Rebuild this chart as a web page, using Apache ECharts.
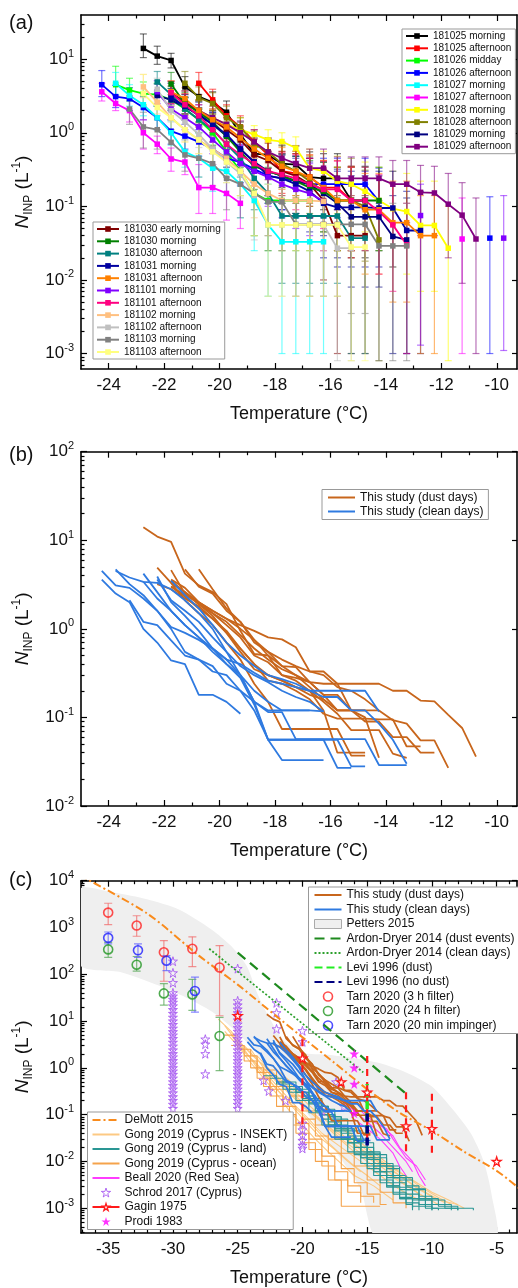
<!DOCTYPE html>
<html><head><meta charset="utf-8">
<script src="https://cdn.jsdelivr.net/npm/echarts@6/dist/echarts.min.js"></script>
<style>html,body{margin:0;padding:0;background:#fff}#c{width:518px;height:1288px}</style>
</head><body><div id="c"></div><script>
const FONT = '"Liberation Sans", Arial, sans-serif';
const INK = '#111';

// ---------- Panel (a) / (b): this study ----------
const NAMES_A = ['181025 morning','181025 afternoon','181026 midday','181026 afternoon','181027 morning','181027 afternoon','181028 morning','181028 afternoon','181029 morning','181029 afternoon','181030 early morning','181030 morning','181030 afternoon','181031 morning','181031 afternoon','181101 morning','181101 afternoon','181102 morning','181102 afternoon','181103 morning','181103 afternoon'];
const COLORS_A = ['#000000','#ff0000','#00ff00','#0000ff','#00ffff','#ff00ff','#ffff00','#808000','#000080','#800080','#800000','#008000','#008080','#0000a0','#ff8000','#8000ff','#ff0080','#ffc080','#c0c0c0','#808080','#ffff80'];
const DUST_A = [1,1,0,0,0,0,1,1,1,1,1,1,1,1,1,0,0,0,0,0,0];

// [temperature, N_INP, lower, upper]
const D01 = [[-22.75,14,10.5,22],[-22.25,11,8.5,15],[-21.75,9.6,7.6,12],[-21.25,4.2,3.0,5.8],[-20.75,3.1,2.2,4.4],[-20.25,2.6,1.8,3.6],[-19.75,1.9,1.3,2.7],[-19.25,0.95,0.6,1.4],[-18.75,0.52,0.3,0.85],[-18.25,0.5,0.28,0.82],[-17.75,0.38,0.18,0.68],[-17.25,0.37,0.17,0.66],[-16.75,0.25,0.1,0.55],[-16.25,0.24,0.09,0.52],[-15.75,0.24,0.09,0.52],[-15.25,0.12,0.02,0.35],[-14.75,0.12,0.02,0.35]];
const D02 = [[-20.75,4.7,3.3,6.6],[-20.25,2.8,2.0,3.9],[-19.75,1.7,1.2,2.4],[-19.25,1.2,0.8,1.7],[-18.75,0.75,0.48,1.1],[-18.25,0.5,0.3,0.8],[-17.75,0.3,0.15,0.55],[-17.25,0.28,0.13,0.52],[-16.75,0.25,0.11,0.5],[-16.25,0.18,0.06,0.42],[-15.75,0.18,0.06,0.42],[-15.25,0.12,0.02,0.35]];
const D03 = [[-23.75,4.5,3.2,8.0],[-23.25,3.8,2.7,5.5],[-22.75,3.4,2.4,4.9],[-22.25,3.3,2.3,4.7],[-21.75,2.8,2.0,4.0],[-21.25,2.1,1.5,3.0],[-20.75,1.5,1.0,2.1],[-20.25,1.0,0.68,1.45],[-19.75,0.55,0.34,0.88],[-19.25,0.3,0.14,0.56],[-18.75,0.15,0.04,0.4],[-18.25,0.12,0.025,0.34],[-17.75,0.12,0.025,0.34],[-17.25,0.12,0.025,0.34],[-16.75,0.12,0.025,0.34]];
const D04 = [[-24.25,4.5,3.1,7.0],[-23.75,3.1,2.2,4.4],[-23.25,2.9,2.0,4.1],[-22.75,2.2,1.5,3.1],[-22.25,1.6,1.1,2.3],[-21.75,1.05,0.7,1.5],[-21.25,0.9,0.6,1.3],[-20.75,0.75,0.48,1.1],[-20.25,0.6,0.37,0.95],[-19.75,0.45,0.25,0.75],[-19.25,0.4,0.21,0.7],[-18.75,0.32,0.15,0.58],[-18.25,0.26,0.11,0.52],[-17.75,0.24,0.09,0.5],[-17.25,0.22,0.08,0.48],[-16.75,0.2,0.07,0.45],[-16.25,0.2,0.07,0.45],[-15.75,0.2,0.07,0.45],[-15.25,0.2,0.07,0.45],[-14.75,0.2,0.07,0.45],[-14.25,0.117,0.025,0.33],[-10.25,0.037,0.001,0.135]];
const D05 = [[-23.75,4.7,3.3,6.6],[-23.25,3.2,2.3,4.5],[-22.75,2.4,1.7,3.4],[-22.25,1.6,1.1,2.3],[-21.75,1.0,0.68,1.45],[-21.25,0.55,0.34,0.88],[-20.75,0.45,0.25,0.75],[-20.25,0.33,0.16,0.6],[-19.75,0.3,0.14,0.56],[-19.25,0.2,0.07,0.45],[-18.75,0.12,0.025,0.34],[-18.25,0.056,0.006,0.2],[-17.75,0.033,0.001,0.12],[-17.25,0.033,0.001,0.12],[-16.75,0.033,0.001,0.12],[-16.25,0.033,0.001,0.12]];
const D06 = [[-24.25,3.6,2.7,4.7],[-23.75,2.5,2.0,3.2],[-23.25,2.0,1.4,2.8],[-22.75,1.0,0.6,1.5],[-22.25,0.7,0.52,0.9],[-21.75,0.44,0.3,0.62],[-21.25,0.4,0.27,0.58],[-20.75,0.18,0.08,0.37],[-20.25,0.18,0.08,0.37],[-19.75,0.15,0.065,0.3],[-19.25,0.11,0.05,0.2],[-11.25,0.036,0.001,0.13]];
const D07 = [[-21.75,3.0,2.1,4.3],[-21.25,2.4,1.7,3.4],[-20.75,2.0,1.4,2.8],[-20.25,1.6,1.1,2.3],[-19.75,1.3,0.9,1.9],[-19.25,1.1,0.75,1.6],[-18.75,0.95,0.63,1.25],[-18.25,0.8,0.52,1.1],[-17.75,0.76,0.5,1.0],[-17.25,0.62,0.38,0.88],[-16.75,0.33,0.16,0.6],[-16.25,0.3,0.14,0.56],[-15.75,0.22,0.08,0.48],[-15.25,0.2,0.07,0.45],[-14.75,0.16,0.045,0.4],[-14.25,0.12,0.025,0.34],[-13.75,0.093,0.015,0.3],[-13.25,0.085,0.012,0.28],[-12.75,0.055,0.007,0.22],[-12.25,0.055,0.007,0.22],[-11.75,0.027,0.0008,0.1]];
const D08 = [[-21.25,4.7,3.3,6.8],[-20.75,3.0,2.1,4.2],[-20.25,2.5,1.8,3.5],[-19.75,1.6,1.1,2.3],[-19.25,1.2,0.8,1.6],[-18.75,0.7,0.45,1.05],[-18.25,0.55,0.33,0.85],[-17.75,0.38,0.19,0.66],[-17.25,0.3,0.14,0.56],[-16.75,0.22,0.08,0.48],[-16.25,0.16,0.045,0.4],[-15.75,0.12,0.025,0.34],[-15.25,0.12,0.025,0.34],[-14.75,0.1,0.018,0.31],[-14.25,0.035,0.0008,0.12]];
const D09 = [[-22.25,3.2,2.3,4.6],[-21.75,2.8,2.0,4.0],[-21.25,2.2,1.5,3.1],[-20.75,1.8,1.25,2.6],[-20.25,1.3,0.9,1.9],[-19.75,0.9,0.6,1.3],[-19.25,0.6,0.37,0.95],[-18.75,0.4,0.21,0.7],[-18.25,0.3,0.14,0.56],[-17.75,0.26,0.11,0.52],[-17.25,0.22,0.08,0.48],[-16.75,0.2,0.07,0.45],[-16.25,0.15,0.04,0.4],[-15.75,0.11,0.02,0.32],[-15.25,0.072,0.008,0.26],[-14.75,0.072,0.008,0.26],[-14.25,0.072,0.008,0.26],[-13.75,0.039,0.001,0.14],[-13.25,0.035,0.001,0.13]];
const D10 = [[-21.75,3.3,2.4,4.7],[-21.25,2.6,1.8,3.7],[-20.75,2.0,1.4,2.8],[-20.25,1.6,1.1,2.3],[-19.75,1.3,0.9,1.9],[-19.25,1.0,0.68,1.45],[-18.75,0.75,0.48,1.1],[-18.25,0.55,0.33,0.85],[-17.75,0.45,0.25,0.75],[-17.25,0.38,0.19,0.67],[-16.75,0.33,0.16,0.6],[-16.25,0.33,0.16,0.6],[-15.75,0.24,0.09,0.47],[-15.25,0.24,0.09,0.47],[-14.75,0.24,0.09,0.47],[-14.25,0.24,0.09,0.47],[-13.75,0.2,0.06,0.42],[-13.25,0.2,0.06,0.42],[-12.75,0.155,0.04,0.36],[-12.25,0.152,0.04,0.35],[-11.75,0.107,0.02,0.28],[-11.25,0.076,0.009,0.21],[-10.75,0.036,0.001,0.13]];
const D11 = [[-21.75,3.5,2.5,5.0],[-21.25,2.6,1.8,3.7],[-20.75,1.9,1.3,2.7],[-20.25,1.5,1.0,2.1],[-19.75,1.1,0.75,1.6],[-19.25,0.8,0.52,1.2],[-18.75,0.5,0.3,0.82],[-18.25,0.42,0.23,0.72],[-17.75,0.3,0.14,0.56],[-17.25,0.26,0.11,0.52],[-16.75,0.2,0.07,0.45],[-16.25,0.12,0.01,0.33],[-15.75,0.04,0.001,0.14],[-15.25,0.04,0.001,0.14],[-14.75,0.04,0.001,0.14]];
const D12 = [[-21.75,4.6,3.3,6.6],[-21.25,2.5,1.8,3.5],[-20.75,1.9,1.3,2.7],[-20.25,1.4,0.95,2.0],[-19.75,0.9,0.6,1.3],[-19.25,0.55,0.34,0.88],[-18.75,0.35,0.17,0.63],[-18.25,0.3,0.14,0.56],[-17.75,0.26,0.11,0.52],[-17.25,0.22,0.08,0.48],[-16.75,0.18,0.055,0.42],[-16.25,0.16,0.045,0.4],[-15.75,0.12,0.025,0.34],[-15.25,0.12,0.025,0.34],[-14.75,0.12,0.025,0.34],[-14.25,0.12,0.025,0.34]];
const D13 = [[-22.25,4.9,3.4,6.8],[-21.75,3.3,2.3,4.7],[-21.25,2.1,1.5,3.0],[-20.75,1.5,1.0,2.1],[-20.25,1.1,0.75,1.6],[-19.75,0.7,0.45,1.05],[-19.25,0.45,0.25,0.75],[-18.75,0.24,0.09,0.5],[-18.25,0.15,0.04,0.4],[-17.75,0.074,0.009,0.24],[-17.25,0.074,0.009,0.24],[-16.75,0.074,0.009,0.24],[-16.25,0.074,0.009,0.24],[-15.75,0.074,0.009,0.24],[-15.25,0.037,0.001,0.13],[-14.75,0.037,0.001,0.13]];
const D14 = [[-21.75,3.0,2.1,4.3],[-21.25,2.3,1.6,3.3],[-20.75,1.7,1.2,2.4],[-20.25,1.3,0.9,1.9],[-19.75,0.95,0.63,1.4],[-19.25,0.6,0.37,0.95],[-18.75,0.4,0.21,0.7],[-18.25,0.26,0.11,0.52],[-17.75,0.24,0.09,0.5],[-17.25,0.2,0.07,0.45],[-16.75,0.16,0.045,0.4],[-16.25,0.11,0.02,0.32],[-15.75,0.097,0.015,0.3],[-15.25,0.097,0.015,0.3],[-14.75,0.097,0.015,0.3],[-14.25,0.095,0.015,0.3],[-13.75,0.095,0.015,0.3],[-13.25,0.047,0.001,0.16],[-12.75,0.047,0.001,0.16]];
const D15 = [[-21.75,3.6,2.6,5.1],[-21.25,2.9,2.0,4.1],[-20.75,2.0,1.4,2.8],[-20.25,1.5,1.0,2.1],[-19.75,1.2,0.8,1.7],[-19.25,0.85,0.55,1.25],[-18.75,0.6,0.37,0.95],[-18.25,0.45,0.25,0.75],[-17.75,0.35,0.17,0.63],[-17.25,0.3,0.14,0.56],[-16.75,0.25,0.1,0.5],[-16.25,0.18,0.055,0.42],[-15.75,0.12,0.025,0.34],[-15.25,0.12,0.025,0.34],[-14.75,0.09,0.012,0.28],[-14.25,0.09,0.012,0.28],[-13.75,0.06,0.005,0.22],[-13.25,0.06,0.005,0.22],[-12.75,0.04,0.001,0.14],[-12.25,0.04,0.001,0.14]];
const D16 = [[-22.25,3.6,2.5,5.1],[-21.75,2.1,1.5,3.0],[-21.25,1.6,1.1,2.3],[-20.75,1.2,0.8,1.7],[-20.25,0.8,0.52,1.2],[-19.75,0.55,0.34,0.88],[-19.25,0.38,0.19,0.67],[-18.75,0.3,0.14,0.56],[-18.25,0.25,0.1,0.5],[-17.75,0.2,0.07,0.45],[-17.25,0.17,0.05,0.41],[-16.75,0.15,0.04,0.38],[-16.25,0.117,0.025,0.33],[-12.75,0.075,0.0013,0.2],[-9.75,0.037,0.0011,0.14]];
const D17 = [[-21.75,3.5,2.5,5.0],[-21.25,2.4,1.7,3.4],[-20.75,1.7,1.2,2.4],[-20.25,1.1,0.75,1.6],[-19.75,0.7,0.45,1.05],[-19.25,0.5,0.3,0.8],[-18.75,0.38,0.19,0.67],[-18.25,0.3,0.14,0.56],[-17.75,0.27,0.12,0.53],[-17.25,0.24,0.09,0.5],[-16.75,0.2,0.07,0.45],[-16.25,0.17,0.05,0.41],[-15.75,0.17,0.05,0.41],[-15.25,0.12,0.025,0.34],[-14.75,0.12,0.025,0.34],[-14.25,0.085,0.012,0.27],[-13.75,0.056,0.007,0.2],[-13.25,0.03,0.001,0.11]];
const D18 = [[-22.75,4.2,3.0,6.2],[-22.25,2.6,1.8,3.7],[-21.75,1.6,1.1,2.3],[-21.25,1.1,0.75,1.6],[-20.75,0.8,0.52,1.2],[-20.25,0.6,0.37,0.95],[-19.75,0.45,0.25,0.75],[-19.25,0.3,0.14,0.56],[-18.75,0.2,0.07,0.45],[-18.25,0.15,0.04,0.38],[-17.75,0.12,0.025,0.34],[-17.25,0.12,0.025,0.34],[-16.75,0.12,0.025,0.34],[-16.25,0.117,0.025,0.33]];
const D19 = [[-22.25,3.9,2.7,5.5],[-21.75,2.0,1.4,2.8],[-21.25,1.4,0.95,2.0],[-20.75,0.95,0.63,1.4],[-20.25,0.6,0.37,0.95],[-19.75,0.4,0.21,0.7],[-19.25,0.28,0.13,0.54],[-18.75,0.14,0.035,0.37],[-18.25,0.056,0.006,0.2],[-17.75,0.056,0.006,0.2],[-17.25,0.056,0.006,0.2],[-16.75,0.056,0.006,0.2],[-16.25,0.056,0.006,0.2],[-15.75,0.027,0.0008,0.1],[-15.25,0.027,0.0008,0.1]];
const D20 = [[-23.25,2.1,1.3,3.2],[-22.75,1.2,0.62,1.9],[-22.25,1.1,0.6,1.7],[-21.75,0.74,0.45,1.1],[-21.25,0.5,0.3,0.8],[-20.75,0.45,0.25,0.75],[-20.25,0.38,0.19,0.67],[-19.75,0.24,0.09,0.5],[-19.25,0.2,0.07,0.45],[-18.75,0.15,0.04,0.38],[-18.25,0.115,0.025,0.33],[-17.75,0.115,0.025,0.33],[-17.25,0.057,0.006,0.2],[-16.75,0.057,0.006,0.2],[-16.25,0.057,0.006,0.2],[-15.75,0.057,0.006,0.2],[-15.25,0.057,0.0035,0.2],[-14.75,0.057,0.0035,0.2],[-14.25,0.029,0.0008,0.11],[-13.75,0.029,0.0008,0.11],[-13.25,0.029,0.0008,0.11]];
const D21 = [[-22.75,3.4,2.4,6.2],[-22.25,2.2,1.5,3.1],[-21.75,1.6,1.1,2.3],[-21.25,1.1,0.75,1.6],[-20.75,0.8,0.52,1.2],[-20.25,0.55,0.34,0.88],[-19.75,0.4,0.21,0.7],[-19.25,0.3,0.14,0.56],[-18.75,0.15,0.04,0.38],[-18.25,0.056,0.006,0.2],[-17.75,0.056,0.006,0.2],[-17.25,0.056,0.006,0.2],[-16.75,0.056,0.006,0.2],[-16.25,0.056,0.006,0.2],[-15.75,0.056,0.006,0.2],[-15.25,0.028,0.0008,0.1],[-14.75,0.028,0.0008,0.1]];
const SERIES_A = [D01,D02,D03,D04,D05,D06,D07,D08,D09,D10,D11,D12,D13,D14,D15,D16,D17,D18,D19,D20,D21];

// ---------- Panel (c): literature ----------
const PETTERS_UPPER = [[-37.2,6600],[-34.5,5500],[-32,4000],[-29.5,2400],[-27,900],[-25.5,400],[-24.3,150],[-23.5,40],[-22.7,14],[-21.5,4],[-20,2.1],[-18,1.9],[-16,1.6],[-14,1.25],[-12,0.8],[-10,0.4],[-8.5,0.14],[-7,0.04],[-6,0.01],[-5.4,0.002],[-5.15,0.0002]];
const PETTERS_LOWER = [[-37.2,160],[-34,110],[-31,56],[-29,32],[-27,16],[-25,5.6],[-23,1.4],[-21,0.32],[-19,0.063],[-17,0.011],[-15.5,0.0025],[-14.1,0.0002]];
const DEMOTT = [[-37.2,13000],[-32,2000],[-28,250],[-25,60],[-22,12.6],[-20,4.5],[-17.5,1.26],[-15,0.35],[-12.5,0.11],[-10,0.045],[-7.5,0.016],[-5,0.0063],[-3.3,0.0027]];
const ARDON_DUST = [[-25,290],[-12,0.28]];
const ARDON_CLEAN = [[-27.2,350],[-15.3,0.8]];
const LEVI_DUST = [[-15,0.04],[-15,0.45]];
const LEVI_NODUST = [[-15,0.022],[-15,0.12]];
// [T, N, lower, upper]
const TARN_3H = [[-35,2080,1150,3300],[-32.8,1100,650,1780],[-30.7,295,71,525],[-28.5,350,145,630],[-26.4,140,13,410]];
const TARN_24H = [[-35,340,230,480],[-32.8,160,117,240],[-30.7,39,22,63],[-28.5,37,17,78],[-26.4,4.8,0.87,12]];
const TARN_20M = [[-35,600,445,800],[-32.7,325,230,445],[-30.5,195,120,250],[-28.3,44,15.5,87]];
const GAGIN = [[-25,13],[-20,1.6],[-17,0.5],[-15,0.3],[-12,0.057],[-10,0.05],[-5,0.01]];
const GAGIN_RANGE = [[-20,0.06,4.1],[-15,0.03,1.8],[-12,0.015,0.3],[-10,0.0126,0.28]];
const PRODI = [[-16,2.0],[-16,1.0],[-16,0.45],[-16,0.107]];
const SCHROD = [[-30,190],[-30,107],[-30,66],[-30,40],[-30,34],[-30,29],[-30,25],[-30,21],[-30,17.5],[-30,14.5],[-30,12],[-30,10],[-30,8.4],[-30,7],[-30,5.9],[-30,5],[-30,4.2],[-30,3.5],[-30,2.9],[-30,2.4],[-30,2.0],[-30,1.7],[-30,1.42],[-30,1.2],[-30,1.0],[-30,0.85],[-30,0.72],[-30,0.6],[-30,0.5],[-30,0.42],[-30,0.35],[-30,0.29],[-30,0.24],[-30,0.2],[-30,0.165],[-30,0.135],
 [-25,132],[-25,27],[-25,22],[-25,18],[-25,15],[-25,12.5],[-25,10.5],[-25,8.6],[-25,7.2],[-25,6],[-25,5],[-25,4.2],[-25,3.5],[-25,2.9],[-25,2.4],[-25,2.0],[-25,1.7],[-25,1.42],[-25,1.2],[-25,1.0],[-25,0.85],[-25,0.72],[-25,0.6],[-25,0.5],[-25,0.42],[-25,0.35],[-25,0.29],[-25,0.24],[-25,0.2],[-25,0.165],[-25,0.135],
 [-27.5,4.1],[-27.5,3.2],[-27.5,2.0],[-27.5,0.74],[-22,24.5],[-22,15],[-22,6.8],[-20,6.2],[-20,3.6],[-20,0.065],[-20,0.047],[-20,0.036],[-20,0.028],[-20,0.022],[-20,0.019],
 [-23,0.54],[-22.6,0.32],[-21.3,0.2],[-17.4,0.5],[-16.8,0.15],[-15,0.3],[-18.5,0.12]];
const GONG_INSEKT = [
 [[-26.5,11],[-25.5,6],[-24.5,2.5],[-23.5,1.0],[-22.5,0.5],[-21.5,0.25],[-20.5,0.12],[-19.5,0.06],[-18.5,0.03],[-17.5,0.018],[-16.5,0.01],[-15.5,0.006]],
 [[-26,8],[-25,3.5],[-24,1.6],[-23,0.8],[-22,0.35],[-21,0.18],[-20,0.1],[-19,0.05],[-18,0.025],[-17,0.014],[-16,0.008],[-15,0.005],[-14,0.003]],
 [[-25.5,5],[-24.5,2.2],[-23.5,1.2],[-22.5,0.6],[-21.5,0.3],[-20.5,0.15],[-19.5,0.08],[-18.5,0.04],[-17,0.02],[-15.5,0.01],[-14,0.005],[-12.5,0.0025],[-11,0.0015]],
 [[-24.5,3],[-23.5,1.5],[-22.5,0.9],[-21.5,0.45],[-20.5,0.25],[-19.5,0.13],[-18.5,0.07],[-17,0.035],[-15.5,0.018],[-14,0.009],[-12.5,0.005],[-11,0.0025],[-9.5,0.0015],[-8,0.0012]],
 [[-23.5,1.8],[-22.5,0.9],[-21.5,0.5],[-20.5,0.3],[-19.5,0.16],[-18.5,0.09],[-17.5,0.05],[-16.5,0.03],[-15,0.015],[-13.5,0.008],[-12,0.004],[-10.5,0.0022],[-9,0.0013]],
 [[-22.5,1.2],[-21.5,0.7],[-20.5,0.4],[-19.5,0.25],[-18.5,0.14],[-17.5,0.08],[-16.5,0.045],[-15.5,0.025],[-14,0.012],[-12.5,0.006],[-11,0.003],[-9.5,0.0017],[-8.5,0.0012]],
 [[-26,6],[-25,3],[-24,1.3],[-23,0.6],[-22,0.28],[-21,0.12],[-20,0.06],[-19,0.03],[-18,0.016],[-17,0.009],[-16,0.005],[-14.5,0.003],[-13,0.0015]],
 [[-24,2.5],[-23,1.0],[-22,0.5],[-21,0.28],[-20,0.15],[-19,0.09],[-18,0.05],[-17,0.028],[-16,0.016],[-14.5,0.008],[-13,0.0045],[-11.5,0.0025],[-10,0.0014]],
 [[-21.5,0.6],[-20.5,0.35],[-19.5,0.2],[-18.5,0.12],[-17.5,0.07],[-16.5,0.04],[-15.5,0.022],[-14.5,0.013],[-13,0.007],[-11.5,0.004],[-10,0.0022],[-8.5,0.0014],[-7.5,0.001]],
 [[-25,4],[-24,2],[-23,1.1],[-22,0.6],[-21,0.3],[-20,0.17],[-19,0.1],[-18,0.055],[-17,0.03],[-15.5,0.015],[-14,0.008],[-12.5,0.004],[-11,0.002],[-9.5,0.0012]]];
const GONG_LAND = [
 [[-23,0.68],[-22,0.45],[-21,0.3],[-20,0.2],[-19,0.12],[-18,0.07],[-17,0.04],[-16,0.02],[-15,0.011],[-14,0.006],[-13,0.0035],[-12,0.002],[-11,0.0012],[-10,0.0009]],
 [[-22,0.5],[-21,0.35],[-20,0.25],[-19,0.15],[-18,0.09],[-17,0.05],[-16,0.03],[-15,0.016],[-14,0.009],[-13,0.005],[-12,0.003],[-11,0.0018],[-10,0.0012],[-8.5,0.0009]],
 [[-21,0.4],[-20,0.22],[-19,0.12],[-18,0.06],[-17,0.03],[-16,0.015],[-15,0.008],[-14,0.004],[-13,0.0022],[-12,0.0013],[-11,0.0009]],
 [[-20.5,0.3],[-19.5,0.18],[-18.5,0.1],[-17.5,0.055],[-16.5,0.03],[-15.5,0.016],[-14.5,0.009],[-13.5,0.005],[-12.5,0.0028],[-11.5,0.0016],[-10.5,0.001]],
 [[-20,0.25],[-19,0.15],[-18,0.09],[-17,0.05],[-16,0.028],[-15,0.015],[-14,0.008],[-13,0.0045],[-12,0.0025],[-11,0.0015],[-10,0.001],[-8,0.0009]],
 [[-19.5,0.2],[-18.5,0.1],[-17.5,0.05],[-16.5,0.025],[-15.5,0.012],[-14.5,0.006],[-13.5,0.003],[-12.5,0.0017],[-11.5,0.001]],
 [[-21.5,0.5],[-20.5,0.3],[-19.5,0.17],[-18.5,0.1],[-17.5,0.06],[-16.5,0.035],[-15.5,0.02],[-14.5,0.012],[-13.5,0.007],[-12.5,0.004],[-11.5,0.0025],[-10.5,0.0015],[-9,0.001],[-6.8,0.0009]],
 [[-19,0.12],[-18,0.06],[-17,0.03],[-16,0.014],[-15,0.007],[-14,0.0035],[-13,0.002],[-12,0.0012],[-11.5,0.0009]],
 [[-22.5,0.6],[-21.5,0.35],[-20.5,0.2],[-19.5,0.11],[-18.5,0.06],[-17.5,0.03],[-16.5,0.016],[-15.5,0.009],[-14.5,0.005],[-13.5,0.0028],[-12.5,0.0016],[-11.5,0.001]],
 [[-18.5,0.08],[-17.5,0.045],[-16.5,0.025],[-15.5,0.014],[-14.5,0.008],[-13.5,0.0045],[-12.5,0.0025],[-11.5,0.0015],[-10.5,0.001],[-9.5,0.0009]],
 [[-20.5,0.35],[-19.5,0.22],[-18.5,0.13],[-17.5,0.08],[-16.5,0.045],[-15.5,0.025],[-14.5,0.014],[-13.5,0.008],[-12.5,0.0045],[-11.5,0.0026],[-10.5,0.0016],[-9.5,0.0011],[-8,0.0009]],
 [[-17.5,0.05],[-16.5,0.025],[-15.5,0.012],[-14.5,0.006],[-13.5,0.003],[-12.5,0.0016],[-11.5,0.0011],[-10,0.0009]]];
const GONG_OCEAN = [
 [[-26,5],[-25,2.5],[-24,1.0],[-23,0.4],[-22,0.15],[-21,0.06],[-20,0.025],[-19,0.01],[-18,0.004],[-17,0.0011],[-14,0.0011]],
 [[-25.5,3],[-24.5,1.4],[-23.5,0.6],[-22.5,0.25],[-21.5,0.1],[-20.5,0.04],[-19.5,0.018],[-18.5,0.008],[-17.5,0.004],[-16.5,0.0022],[-15.5,0.0013]],
 [[-24.5,1.8],[-23.5,0.8],[-22.5,0.35],[-21.5,0.15],[-20.5,0.065],[-19.5,0.03],[-18.5,0.013],[-17.5,0.006],[-16.5,0.003],[-15.5,0.0018],[-14.5,0.0013]],
 [[-23,0.9],[-22,0.4],[-21,0.18],[-20,0.08],[-19,0.035],[-18,0.015],[-17,0.007],[-16,0.0035],[-15,0.002],[-14,0.0012],[-13.5,0.0012]],
 [[-22,0.5],[-21,0.25],[-20,0.12],[-19,0.06],[-18,0.03],[-17,0.015],[-16,0.008],[-15,0.004],[-14,0.0022],[-13,0.0013],[-12,0.001]]];
const BEALL = [
 [[-17,0.2],[-16,0.12],[-15,0.07],[-14,0.04],[-13,0.02],[-12,0.01],[-11.5,0.006]],
 [[-15.5,0.12],[-14.5,0.07],[-13.5,0.05],[-13,0.03],[-12,0.012],[-11.2,0.008],[-10.5,0.004]],
 [[-14,0.06],[-13,0.035],[-12.5,0.02],[-11.5,0.01],[-11,0.005],[-10.5,0.003]],
 [[-16,0.08],[-15,0.05],[-14,0.03],[-13,0.015],[-12.5,0.008],[-12,0.005]]];

// ---------- helpers ----------
const L = Math.log10;
function toLine(d) {
  const out = [];
  d.forEach((p, i) => {
    if (i > 0 && p[0] - d[i-1][0] > 0.6) out.push([(p[0] + d[i-1][0]) / 2, '-']);
    out.push([p[0], L(p[1])]);
  });
  return out;
}
function logPts(d) { return d.map(p => [p[0], L(p[1])]); }
function minorLog(r) {
  const v = [];
  for (let n = Math.floor(r[0]); n < r[1]; n++) for (let k = 2; k <= 9; k++) { const t = n + L(k); if (t > r[0] && t < r[1]) v.push(t); }
  return v;
}
function intsIn(r, step, skipStep) {
  const v = [];
  for (let t = Math.ceil(r[0] / step) * step; t <= r[1] + 1e-9; t += step) if (!skipStep || Math.abs(t / skipStep - Math.round(t / skipStep)) > 1e-6) v.push(t);
  return v;
}

const xAxes = [], yAxes = [];
function addAxes(g, xr, xMaj, xMin, yr) {
  const yMaj = intsIn(yr, 1), yMin = minorLog(yr);
  const line = s => ({show: s, onZero: false, lineStyle: {color: '#000', width: 1.6}});
  const tick = (vals, len) => ({show: true, inside: true, length: len, customValues: vals, lineStyle: {color: '#000', width: 1.2}});
  const cx = () => ({gridIndex: g, type: 'value', min: xr[0], max: xr[1], splitLine: {show: false}});
  const cy = () => ({gridIndex: g, type: 'value', min: yr[0], max: yr[1], splitLine: {show: false}});
  xAxes.push(Object.assign(cx(), {position: 'bottom', axisLine: line(true), axisTick: tick(xMaj, 6),
    axisLabel: {customValues: xMaj, fontSize: 17, color: INK, fontFamily: FONT, margin: 8},
    name: 'Temperature (°C)', nameLocation: 'middle', nameGap: 36, nameTextStyle: {fontSize: 18, color: INK, fontFamily: FONT}}));
  xAxes.push(Object.assign(cx(), {position: 'bottom', axisLine: line(false), axisTick: tick(xMin, 3.5), axisLabel: {show: false}}));
  xAxes.push(Object.assign(cx(), {position: 'top', axisLine: line(true), axisTick: tick(xMaj, 6), axisLabel: {show: false}}));
  xAxes.push(Object.assign(cx(), {position: 'top', axisLine: line(false), axisTick: tick(xMin, 3.5), axisLabel: {show: false}}));
  yAxes.push(Object.assign(cy(), {position: 'left', axisLine: line(true), axisTick: tick(yMaj, 6),
    axisLabel: {customValues: yMaj, margin: 7, formatter: v => '{b|10}{s|' + Math.round(v) + '}',
      rich: {b: {fontSize: 17, fontFamily: FONT, color: INK, lineHeight: 22}, s: {fontSize: 11, fontFamily: FONT, color: INK, lineHeight: 11, verticalAlign: 'top'}}},
    name: '{i|N}{sub|INP}{t| (L}{sup|-1}{t|)}', nameLocation: 'middle', nameRotate: 90, nameGap: 39,
    nameTextStyle: {rich: {
      i: {fontFamily: FONT, fontSize: 19, fontStyle: 'italic', color: INK, lineHeight: 24},
      sub: {fontFamily: FONT, fontSize: 12, color: INK, lineHeight: 13, verticalAlign: 'bottom'},
      t: {fontFamily: FONT, fontSize: 19, color: INK, lineHeight: 24},
      sup: {fontFamily: FONT, fontSize: 12, color: INK, lineHeight: 12, verticalAlign: 'top'}}}}));
  yAxes.push(Object.assign(cy(), {position: 'left', axisLine: line(false), axisTick: tick(yMin, 3.5), axisLabel: {show: false}}));
  yAxes.push(Object.assign(cy(), {position: 'right', axisLine: line(true), axisTick: tick(yMaj, 5), axisLabel: {show: false}}));
}
const XR_AB = [-25, -9.27], XR_C = [-37.1, -3.43];
addAxes(0, XR_AB, [-24,-22,-20,-18,-16,-14,-12,-10], [-23,-21,-19,-17,-15,-13,-11], [-3.21, 1.6]);
addAxes(1, XR_AB, [-24,-22,-20,-18,-16,-14,-12,-10], [-23,-21,-19,-17,-15,-13,-11], [-2, 2]);
addAxes(2, XR_C, [-35,-30,-25,-20,-15,-10,-5], intsIn(XR_C, 1, 5), [-3.53, 4]);

function errRender(colors, capW, alpha, width, dash) {
  return function (params, api) {
    const x = api.value(0), lo = api.value(1), hi = api.value(2), ci = api.value(3);
    const p1 = api.coord([x, hi]), p2 = api.coord([x, lo]);
    const st = {stroke: colors[ci], lineWidth: width, opacity: alpha, lineDash: dash || null};
    const ch = [{type: 'line', shape: {x1: p1[0], y1: p1[1], x2: p2[0], y2: p2[1]}, style: st}];
    if (capW) {
      ch.push({type: 'line', shape: {x1: p1[0] - capW, y1: p1[1], x2: p1[0] + capW, y2: p1[1]}, style: st});
      ch.push({type: 'line', shape: {x1: p2[0] - capW, y1: p2[1], x2: p2[0] + capW, y2: p2[1]}, style: st});
    }
    return {type: 'group', children: ch};
  };
}

const series = [];
// ---- (a)
const errA = [];
SERIES_A.forEach((d, i) => d.forEach(p => errA.push([p[0], L(p[2]), L(p[3]), i])));
series.push({type: 'custom', xAxisIndex: 0, yAxisIndex: 0, clip: true, z: 2, silent: true,
  renderItem: errRender(COLORS_A, 3.5, 0.55, 1.2), data: errA});
SERIES_A.forEach((d, i) => series.push({type: 'line', name: NAMES_A[i], xAxisIndex: 0, yAxisIndex: 0, z: 3,
  data: toLine(d), symbol: 'rect', symbolSize: 5.5, showSymbol: true,
  lineStyle: {color: COLORS_A[i], width: 1.8}, itemStyle: {color: COLORS_A[i]}}));

// ---- (b) and the study lines of (c)
const DUST_COL = '#c8661c', CLEAN_COL = '#2f7ae0';
const XC = 8, YC = 6;
[[4, 3, 1.8], [XC, YC, 1.7]].forEach(([xi, yi, w]) => {
  SERIES_A.forEach((d, i) => {
    const col = DUST_A[i] ? DUST_COL : CLEAN_COL;
    series.push({type: 'line', name: DUST_A[i] ? 'This study (dust days)' : 'This study (clean days)', xAxisIndex: xi, yAxisIndex: yi, z: DUST_A[i] ? 4 : 5,
      data: toLine(d), symbol: 'none', lineStyle: {color: col, width: w}, itemStyle: {color: col}});
  });
});

// ---- (c)
series.push({type: 'custom', name: 'Petters 2015', xAxisIndex: XC, yAxisIndex: YC, clip: true, z: 1, silent: true,
  itemStyle: {color: '#efefef'}, data: [[PETTERS_UPPER[0][0], L(PETTERS_UPPER[0][1])]],
  renderItem: (params, api) => {
    const pts = PETTERS_UPPER.map(p => api.coord([p[0], L(p[1])])).concat(PETTERS_LOWER.slice().reverse().map(p => api.coord([p[0], L(p[1])])));
    return {type: 'polygon', shape: {points: pts, smooth: 0.25}, style: {fill: '#efefef'}};
  }});
function addGroup(name, lines, col, z, step) {
  lines.forEach(d => series.push({type: 'line', name: name, xAxisIndex: XC, yAxisIndex: YC, z: z, data: logPts(d), step: step || false,
    symbol: 'none', lineStyle: {color: col, width: 1.1}, itemStyle: {color: col}}));
}
addGroup('Gong 2019 (Cyprus - INSEKT)', GONG_INSEKT, '#fcc983', 2);
addGroup('Gong 2019 (Cyprus - ocean)', GONG_OCEAN, '#f5a34b', 2, 'end');
addGroup('Gong 2019 (Cyprus - land)', GONG_LAND, '#2a9694', 2, 'end');
addGroup('Beall 2020 (Red Sea)', BEALL, '#ff3cff', 3);
const STAR = 'path://M50,2 L61,37 L98,37 L68,59 L79,95 L50,73 L21,95 L32,59 L2,37 L39,37 Z';
series.push({type: 'scatter', name: 'Schrod 2017 (Cyprus)', xAxisIndex: XC, yAxisIndex: YC, z: 3, data: logPts(SCHROD), symbol: STAR, symbolSize: 9,
  itemStyle: {color: 'rgba(255,255,255,0.3)', borderColor: '#a455f0', borderWidth: 1, opacity: 0.85}});
series.push({type: 'line', name: 'DeMott 2015', xAxisIndex: XC, yAxisIndex: YC, z: 6, data: logPts(DEMOTT), smooth: 0.3, symbol: 'none', lineStyle: {color: '#f98b1c', width: 2, type: [8, 3, 2, 3]}, itemStyle: {color: '#f98b1c'}});
series.push({type: 'line', name: 'Ardon-Dryer 2014 (dust events)', xAxisIndex: XC, yAxisIndex: YC, z: 6, data: logPts(ARDON_DUST), symbol: 'none', lineStyle: {color: '#1e8a1e', width: 2.2, type: [10, 6]}, itemStyle: {color: '#1e8a1e'}});
series.push({type: 'line', name: 'Ardon-Dryer 2014 (clean days)', xAxisIndex: XC, yAxisIndex: YC, z: 6, data: logPts(ARDON_CLEAN), symbol: 'none', lineStyle: {color: '#2ca02c', width: 1.8, type: [2, 2]}, itemStyle: {color: '#2ca02c'}});
series.push({type: 'line', name: 'Levi 1996 (dust)', xAxisIndex: XC, yAxisIndex: YC, z: 7, data: logPts(LEVI_DUST), symbol: 'none', lineStyle: {color: '#22ee22', width: 3.5, type: [8, 4]}, itemStyle: {color: '#22ee22'}});
series.push({type: 'line', name: 'Levi 1996 (no dust)', xAxisIndex: XC, yAxisIndex: YC, z: 7, data: logPts(LEVI_NODUST), symbol: 'none', lineStyle: {color: '#000080', width: 3.5, type: [8, 4]}, itemStyle: {color: '#000080'}});
const TARN_COL = ['#ff2020', '#239623', '#2020ff'];
const TARN_ERR_COL = ['#f07070', '#5aaa5a', '#6060ff'];
const errC = [];
[TARN_3H, TARN_24H, TARN_20M].forEach((d, i) => d.forEach(p => errC.push([p[0], L(p[2]), L(p[3]), i])));
series.push({type: 'custom', xAxisIndex: XC, yAxisIndex: YC, clip: true, z: 6, silent: true, renderItem: errRender(TARN_ERR_COL, 4, 0.75, 1.2), data: errC});
[['Tarn 2020 (3 h filter)', TARN_3H], ['Tarn 2020 (24 h filter)', TARN_24H], ['Tarn 2020 (20 min impinger)', TARN_20M]].forEach(([nm, d], i) =>
  series.push({type: 'scatter', name: nm, xAxisIndex: XC, yAxisIndex: YC, z: 7, data: logPts(d), symbol: 'circle', symbolSize: 9,
    itemStyle: {color: 'rgba(255,255,255,0)', borderColor: TARN_COL[i], borderWidth: 1.6}}));
const errG = GAGIN_RANGE.map(p => [p[0], L(p[1]), L(p[2]), 0]);
series.push({type: 'custom', xAxisIndex: XC, yAxisIndex: YC, clip: true, z: 7, silent: true, renderItem: errRender(['#ff1a1a'], 0, 1, 2.2, [7, 6]), data: errG});
series.push({type: 'line', name: 'Gagin 1975', xAxisIndex: XC, yAxisIndex: YC, z: 8, data: toLine(GAGIN), symbol: STAR, symbolSize: 9,
  lineStyle: {color: '#ff1a1a', width: 2}, itemStyle: {color: '#ffffff', borderColor: '#ff1a1a', borderWidth: 1.3}});
series.push({type: 'scatter', name: 'Prodi 1983', xAxisIndex: XC, yAxisIndex: YC, z: 8, data: logPts(PRODI), symbol: STAR, symbolSize: 10, itemStyle: {color: '#ff00ff'}});

// legend helpers: line-only entries hide the symbol
const lineOnly = n => ({name: n, itemStyle: {opacity: 0}});
const legTxt = fs => ({fontSize: fs, fontFamily: FONT, color: INK, lineHeight: fs});
const legBox = {backgroundColor: '#fff', borderColor: '#999', borderWidth: 1, borderRadius: 0, orient: 'vertical', selectedMode: false};
const legends = [
  Object.assign({}, legBox, {left: 402, top: 29, itemWidth: 22, itemHeight: 7, itemGap: 2.3, padding: [2, 4, 2, 3], textStyle: legTxt(10), data: NAMES_A.slice(0, 10)}),
  Object.assign({}, legBox, {left: 93, top: 222, itemWidth: 22, itemHeight: 7, itemGap: 2.3, padding: [2, 4, 2, 3], textStyle: legTxt(10), data: NAMES_A.slice(10)}),
  Object.assign({}, legBox, {left: 322, top: 489.5, itemWidth: 27, itemHeight: 8, itemGap: 2, padding: [2, 5, 2, 5], textStyle: legTxt(12),
    data: [lineOnly('This study (dust days)'), lineOnly('This study (clean days)')]}),
  Object.assign({}, legBox, {left: 308.5, top: 887, itemWidth: 27, itemHeight: 9, itemGap: 2.5, padding: [2, 4, 2, 5], textStyle: legTxt(12),
    data: [lineOnly('This study (dust days)'), lineOnly('This study (clean days)'), {name: 'Petters 2015', icon: 'rect', itemStyle: {color: '#efefef', borderColor: '#aaaaaa', borderWidth: 1}},
      lineOnly('Ardon-Dryer 2014 (dust events)'), lineOnly('Ardon-Dryer 2014 (clean days)'), lineOnly('Levi 1996 (dust)'), lineOnly('Levi 1996 (no dust)'),
      {name: 'Tarn 2020 (3 h filter)', itemStyle: {color: '#fff', borderColor: TARN_COL[0], borderWidth: 1.6}},
      {name: 'Tarn 2020 (24 h filter)', itemStyle: {color: '#fff', borderColor: TARN_COL[1], borderWidth: 1.6}},
      {name: 'Tarn 2020 (20 min impinger)', itemStyle: {color: '#fff', borderColor: TARN_COL[2], borderWidth: 1.6}}]}),
  Object.assign({}, legBox, {left: 87.5, top: 1112, itemWidth: 27, itemHeight: 9, itemGap: 2.5, padding: [2, 6, 2, 4], textStyle: legTxt(12),
    data: [lineOnly('DeMott 2015'), lineOnly('Gong 2019 (Cyprus - INSEKT)'), lineOnly('Gong 2019 (Cyprus - land)'), lineOnly('Gong 2019 (Cyprus - ocean)'), lineOnly('Beall 2020 (Red Sea)'),
      {name: 'Schrod 2017 (Cyprus)', itemStyle: {color: '#fff', borderColor: '#a455f0', borderWidth: 1}},
      {name: 'Gagin 1975', itemStyle: {color: '#fff', borderColor: '#ff1a1a', borderWidth: 1.3}},
      'Prodi 1983']})
];

const chart = echarts.init(document.getElementById('c'), null, {renderer: 'canvas'});
chart.setOption({
  animation: false,
  backgroundColor: '#fff',
  textStyle: {fontFamily: FONT},
  grid: [
    {left: 81, top: 15, width: 436, height: 354},
    {left: 81, top: 451.7, width: 436, height: 354.3},
    {left: 81, top: 880.7, width: 436, height: 354.3}
  ],
  xAxis: xAxes, yAxis: yAxes, legend: legends, series: series,
  graphic: [
    {type: 'text', left: 9, top: 13, style: {text: '(a)', fontSize: 20, fontFamily: FONT, fill: INK}},
    {type: 'text', left: 9, top: 445, style: {text: '(b)', fontSize: 20, fontFamily: FONT, fill: INK}},
    {type: 'text', left: 9, top: 870, style: {text: '(c)', fontSize: 20, fontFamily: FONT, fill: INK}}
  ]
});
</script></body></html>
